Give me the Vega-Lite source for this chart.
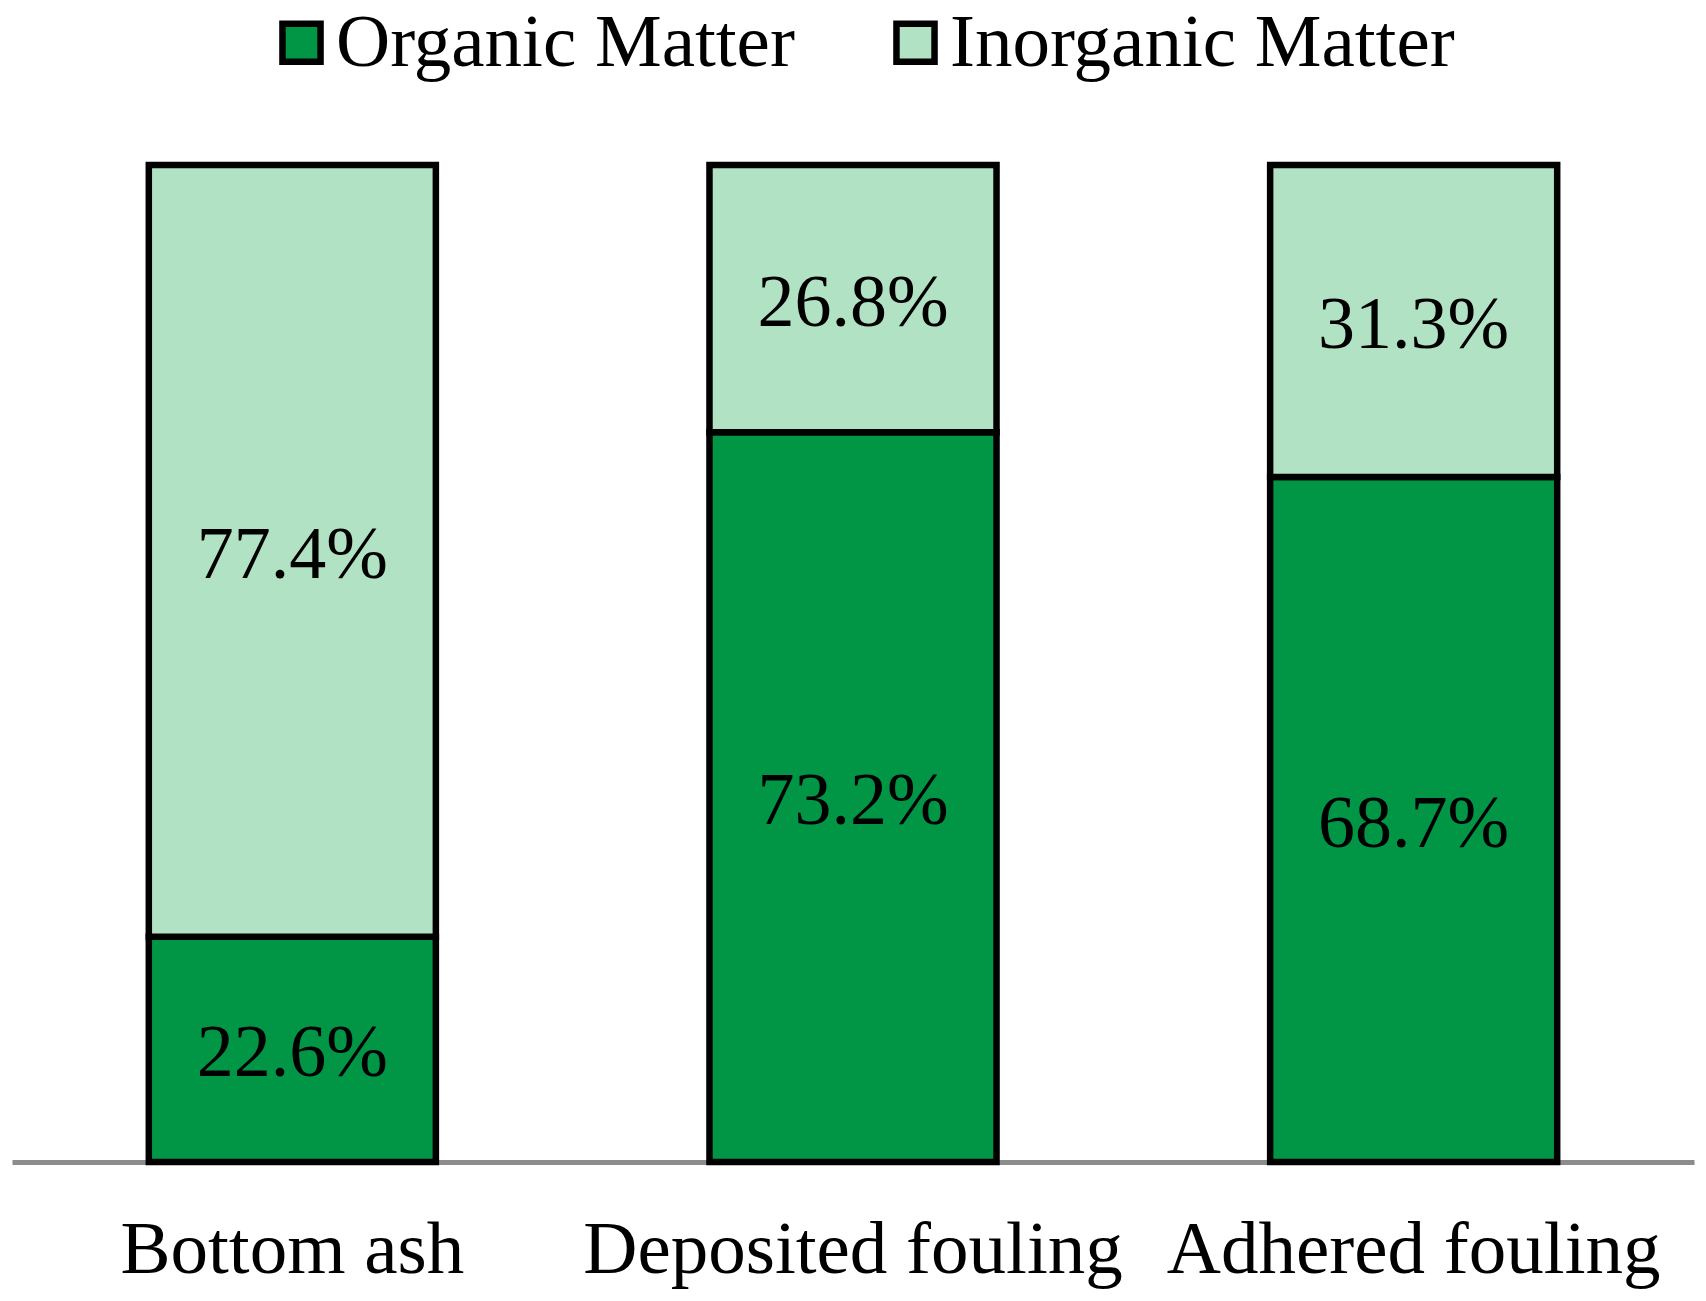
{
  "$schema": "https://vega.github.io/schema/vega-lite/v6.json",
  "autosize": "none",
  "width": 1682,
  "height": 997,
  "padding": {"left": 12, "top": 165, "right": 12, "bottom": 139},
  "background": "white",
  "config": {"view": {"stroke": null}, "font": "Liberation Serif"},
  "data": {
    "values": [
      {"sample": "Bottom ash", "matter": "Organic Matter", "value": 0.226, "ord": 1},
      {"sample": "Bottom ash", "matter": "Inorganic Matter", "value": 0.774, "ord": 2},
      {"sample": "Deposited fouling", "matter": "Organic Matter", "value": 0.732, "ord": 1},
      {"sample": "Deposited fouling", "matter": "Inorganic Matter", "value": 0.268, "ord": 2},
      {"sample": "Adhered fouling", "matter": "Organic Matter", "value": 0.687, "ord": 1},
      {"sample": "Adhered fouling", "matter": "Inorganic Matter", "value": 0.313, "ord": 2}
    ]
  },
  "transform": [
    {"stack": "value", "groupby": ["sample"], "sort": [{"field": "ord", "order": "ascending"}], "as": ["v0", "v1"]},
    {"calculate": "(datum.v0 + datum.v1) / 2", "as": "mid"}
  ],
  "encoding": {
    "x": {
      "field": "sample", "type": "nominal",
      "sort": ["Bottom ash", "Deposited fouling", "Adhered fouling"],
      "scale": {"paddingInner": 0.488, "paddingOuter": 0.244},
      "axis": {
        "title": null, "labelAngle": 0, "ticks": false,
        "domainColor": "#8c8c8c", "domainWidth": 5,
        "labelFont": "Liberation Serif", "labelFontSize": 75, "labelColor": "black",
        "labelPadding": 51, "labelLimit": 0
      }
    }
  },
  "layer": [
    {
      "mark": {"type": "bar", "stroke": "black", "strokeWidth": 6.5},
      "encoding": {
        "y": {"field": "v0", "type": "quantitative", "scale": {"domain": [0, 1], "nice": false}, "axis": null},
        "y2": {"field": "v1"},
        "color": {
          "field": "matter", "type": "nominal",
          "scale": {"domain": ["Organic Matter", "Inorganic Matter"], "range": ["#009645", "#b0e2c3"]},
          "legend": {
            "title": null, "orient": "none", "direction": "horizontal",
            "legendX": 252, "legendY": -160,
            "symbolType": "square",
            "symbolSize": 1450, "symbolStrokeColor": "black", "symbolStrokeWidth": 6.5,
            "labelFont": "Liberation Serif", "labelFontSize": 75, "labelColor": "black",
            "labelOffset": -3, "columnPadding": 83, "labelLimit": 0
          }
        }
      }
    },
    {
      "mark": {"type": "text", "font": "Liberation Serif", "fontSize": 74, "color": "black", "baseline": "middle", "dy": 5},
      "encoding": {
        "y": {"field": "mid", "type": "quantitative"},
        "text": {"field": "value", "type": "quantitative", "format": ".1%"}
      }
    }
  ]
}
